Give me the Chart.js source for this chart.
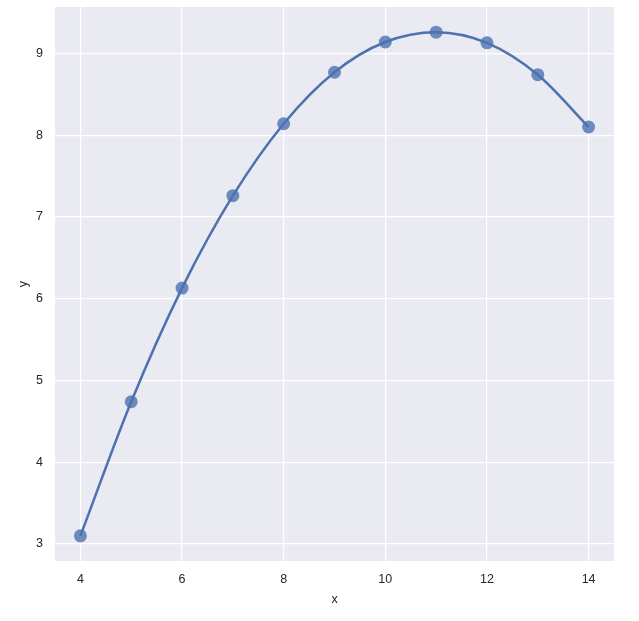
<!DOCTYPE html>
<html>
<head>
<meta charset="utf-8">
<script src="https://cdn.jsdelivr.net/npm/chart.js@4"></script>
<style>
    html, body { margin: 0; padding: 0; background: #ffffff; }
    .frame { width: 639px; height: 621px; position: relative; }
</style>
</head>
<body>
<div class="frame"><canvas id="chart" width="639" height="621"></canvas></div>
<script>
    // Anscombe-style sample, sorted by x
    const xValues = [4, 5, 6, 7, 8, 9, 10, 11, 12, 13, 14];
    const yValues = [3.10, 4.74, 6.13, 7.26, 8.14, 8.77, 9.14, 9.26, 9.13, 8.74, 8.10];
    const xTicks = [4, 6, 8, 10, 12, 14];
    const yTicks = [3, 4, 5, 6, 7, 8, 9];

    const blue = "#4c72b0";
    const font = { family: "'Liberation Sans', Arial, sans-serif", size: 12.5 };
    const points = xValues.map((x, i) => ({ x, y: yValues[i] }));

    const plotBackground = {
        id: "plotBackground",
        beforeDraw(chart) {
            const { ctx, chartArea: a } = chart;
            ctx.save();
            ctx.fillStyle = "#eaeaf2";
            ctx.fillRect(a.left, a.top, a.right - a.left, a.bottom - a.top);
            ctx.restore();
        }
    };

    new Chart(document.getElementById("chart"), {
        type: "scatter",
        data: {
            datasets: [
                {
                    type: "line",
                    label: "fit",
                    data: points,
                    borderColor: blue,
                    borderWidth: 2.5,
                    pointRadius: 0,
                    fill: false,
                    cubicInterpolationMode: "monotone",
                    order: 2
                },
                {
                    label: "data",
                    data: points,
                    backgroundColor: "rgba(76, 114, 176, 0.8)",
                    borderColor: "rgba(76, 114, 176, 0.8)",
                    borderWidth: 0,
                    pointRadius: 6.5,
                    order: 1
                }
            ]
        },
        options: {
            responsive: false,
            animation: false,
            layout: { padding: { top: 7, right: 25, left: 12, bottom: 10 } },
            plugins: {
                legend: { display: false },
                tooltip: { enabled: false }
            },
            scales: {
                x: {
                    type: "linear",
                    min: 3.5,
                    max: 14.5,
                    afterBuildTicks: scale => { scale.ticks = xTicks.map(value => ({ value })); },
                    afterFit: scale => {
                        scale.height = 50;
                        scale.paddingLeft = 0;
                        scale.paddingRight = 0;
                    },
                    grid: { color: "#ffffff", lineWidth: 1.2, drawTicks: false },
                    border: { display: false },
                    ticks: { color: "#262626", font, padding: 11 },
                    title: { display: true, text: "x", color: "#262626", font, padding: { top: 4 } }
                },
                y: {
                    type: "linear",
                    min: 2.792,
                    max: 9.568,
                    afterBuildTicks: scale => { scale.ticks = yTicks.map(value => ({ value })); },
                    afterFit: scale => {
                        scale.width = 43;
                        scale.paddingTop = 0;
                        scale.paddingBottom = 0;
                    },
                    grid: { color: "#ffffff", lineWidth: 1.2, drawTicks: false },
                    border: { display: false },
                    ticks: { color: "#262626", font, padding: 12 },
                    title: { display: true, text: "y", color: "#262626", font, padding: { bottom: 4 } }
                }
            }
        },
        plugins: [plotBackground]
    });
</script>
</body>
</html>
